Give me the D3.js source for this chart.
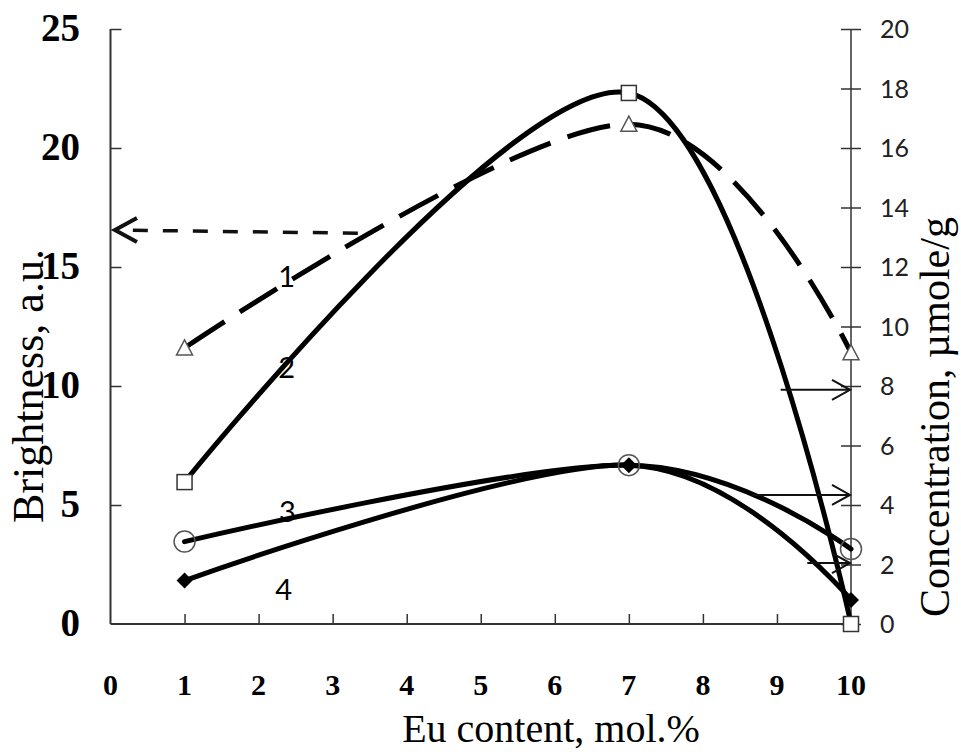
<!DOCTYPE html>
<html>
<head>
<meta charset="utf-8">
<script src="https://cdn.jsdelivr.net/npm/d3@7"></script>
<style>
  html, body { margin: 0; padding: 0; background: #fff; }
  svg { display: block; }
</style>
</head>
<body>
<svg id="chart" width="961" height="752"></svg>
<script>
// Eu content (mol.%) at which the samples were measured
const euContent = [1, 7, 10];

// Curve 1: brightness, a.u. (left axis)
const brightness1 = [11.6, 21.0, 11.4];
// Curves 2-4: concentration, µmole/g (right axis)
const conc2 = [4.77, 17.85, 0];
const conc3 = [2.77, 5.34, 2.52];
const conc4 = [1.46, 5.34, 0.81];

// Axis ticks
const xTicks = [0, 1, 2, 3, 4, 5, 6, 7, 8, 9, 10];
const leftTicks = [0, 5, 10, 15, 20, 25];
const rightTicks = [0, 2, 4, 6, 8, 10, 12, 14, 16, 18, 20];

// Curve number labels, placed in right-axis units
const curveLabels = ["1", "2", "3", "4"];
const curveLabelX = [2.38, 2.38, 2.39, 2.34];
const curveLabelY = [11.73, 8.66, 3.83, 1.21];

// Pointer arrows: curve 1 to the left axis, curves 2-4 to the right axis
const leftArrowFrom = { x: 3.34, y: 16.42 };
const leftArrowTo = { x: 0.06, y: 16.55 };
const rightArrowStart = [9.05, 8.66, 9.41];
const rightArrowLevel = [7.87, 4.34, 2.05];

const svg = d3.select("#chart");

const x = d3.scaleLinear().domain([0, 10]).range([110.5, 851]);
const yL = d3.scaleLinear().domain([0, 25]).range([624, 29]);
const yR = d3.scaleLinear().domain([0, 20]).range([624, 29]);

const serif = "'Liberation Serif', 'Times New Roman', serif";
const sans = "Lato, 'Open Sans', sans-serif";

// ---- axes ----
const axisColor = "#333";

// bottom axis
const gx = svg.append("g").attr("transform", `translate(0,${yL(0)})`)
  .call(d3.axisBottom(x).tickValues(xTicks.slice(1, 10)).tickSize(-10).tickFormat(""));
gx.select(".domain").attr("stroke", axisColor).attr("stroke-width", 2).attr("d", `M${x(0)},0H${x(10)}`);
gx.selectAll(".tick line").attr("stroke", axisColor).attr("stroke-width", 1.5);

svg.append("g").selectAll("text").data(xTicks).join("text")
  .attr("x", d => x(d)).attr("y", 695)
  .attr("text-anchor", "middle")
  .style("font-family", serif).style("font-weight", "bold").style("font-size", "30px")
  .text(d => d);

// left axis
const gl = svg.append("g").attr("transform", `translate(${x(0)},0)`)
  .call(d3.axisLeft(yL).tickValues(leftTicks.slice(1)).tickSize(-11).tickFormat(""));
gl.select(".domain").attr("stroke", axisColor).attr("stroke-width", 2).attr("d", `M0,${yL(25)}V${yL(0)}`);
gl.selectAll(".tick line").attr("stroke", axisColor).attr("stroke-width", 1.5);

svg.append("g").selectAll("text").data(leftTicks).join("text")
  .attr("x", 80).attr("y", d => yL(d) + 12)
  .attr("text-anchor", "end")
  .style("font-family", serif).style("font-weight", "bold").style("font-size", "39px")
  .text(d => d);

// right axis (ticks cross the line)
const gr = svg.append("g").attr("transform", `translate(${x(10)},0)`)
  .call(d3.axisRight(yR).tickValues(rightTicks).tickSize(10).tickFormat(""));
gr.select(".domain").attr("stroke", axisColor).attr("stroke-width", 1.5).attr("d", `M0,${yR(20)}V${yR(0)}`);
gr.selectAll(".tick line").attr("stroke", axisColor).attr("stroke-width", 1.5).attr("x1", -10);

svg.append("g").selectAll("text").data(rightTicks).join("text")
  .attr("x", 880).attr("y", d => yR(d) + 9)
  .attr("text-anchor", "start")
  .style("font-family", sans).style("font-size", "25px").attr("fill", "#222")
  .text(d => d);

// axis titles
svg.append("text")
  .attr("x", 551).attr("y", 742).attr("text-anchor", "middle")
  .style("font-family", serif).style("font-size", "40px")
  .text("Eu content, mol.%");

svg.append("text")
  .attr("transform", "translate(43,386) rotate(-90)").attr("text-anchor", "middle")
  .style("font-family", serif).style("font-size", "44px")
  .text("Brightness, a.u.");

svg.append("text")
  .attr("transform", "translate(949,417) rotate(-90)").attr("text-anchor", "middle")
  .style("font-family", serif).style("font-size", "42px")
  .text("Concentration, \u00b5mole/g");

// ---- curves ----
const smooth = d3.curveCardinal.tension(0);
const lineL = d3.line().curve(smooth).x(d => x(d[0])).y(d => yL(d[1]));
const lineR = d3.line().curve(smooth).x(d => x(d[0])).y(d => yR(d[1]));
const pairs = vals => euContent.map((e, i) => [e, vals[i]]);

const curves = svg.append("g").attr("fill", "none").attr("stroke", "#000").attr("stroke-width", 5);

curves.append("path").attr("d", lineL(pairs(brightness1)))
  .attr("stroke-dasharray", "44,18").attr("stroke-dashoffset", -4).attr("stroke-linecap", "butt");
curves.append("path").attr("d", lineR(pairs(conc2))).attr("stroke-linecap", "round");
curves.append("path").attr("d", lineR(pairs(conc3))).attr("stroke-linecap", "round");
curves.append("path").attr("d", lineR(pairs(conc4))).attr("stroke-linecap", "round");

// ---- markers ----
const mk = svg.append("g");
// triangles (curve 1)
mk.selectAll("path.tri").data(pairs(brightness1)).join("path").attr("class", "tri")
  .attr("d", d => { const cx = x(d[0]), cy = yL(d[1]); return `M${cx},${cy - 8}L${cx + 8},${cy + 7}L${cx - 8},${cy + 7}Z`; })
  .attr("fill", "#fff").attr("stroke", "#555").attr("stroke-width", 1.5);
// squares (curve 2)
mk.selectAll("rect.sq").data(pairs(conc2)).join("rect").attr("class", "sq")
  .attr("x", d => x(d[0]) - 7.5).attr("y", d => yR(d[1]) - 7.5)
  .attr("width", 15).attr("height", 15)
  .attr("fill", "#fff").attr("stroke", "#333").attr("stroke-width", 1.5);
// filled diamonds (curve 4)
mk.selectAll("path.dia").data(pairs(conc4)).join("path").attr("class", "dia")
  .attr("d", d => { const cx = x(d[0]), cy = yR(d[1]); return `M${cx},${cy - 8}L${cx + 8},${cy}L${cx},${cy + 8}L${cx - 8},${cy}Z`; })
  .attr("fill", "#000");
// open circles (curve 3)
mk.selectAll("circle.ci").data(pairs(conc3)).join("circle").attr("class", "ci")
  .attr("cx", d => x(d[0])).attr("cy", d => yR(d[1])).attr("r", 10.5)
  .attr("fill", "none").attr("stroke", "#555").attr("stroke-width", 1.5);

// ---- pointer arrows ----
const ar = svg.append("g").attr("fill", "none").attr("stroke", "#111");

// dashed arrow from curve 1 to the brightness axis
ar.append("line")
  .attr("x1", x(leftArrowFrom.x)).attr("y1", yL(leftArrowFrom.y))
  .attr("x2", x(leftArrowTo.x) + 4).attr("y2", yL(leftArrowTo.y))
  .attr("stroke-width", 3.5).attr("stroke-dasharray", "15,15");
{
  const tx = x(leftArrowTo.x), ty = yL(leftArrowTo.y);
  ar.append("path").attr("d", `M${tx + 22},${ty - 12}L${tx},${ty}L${tx + 22},${ty + 12}`)
    .attr("stroke-width", 4).attr("stroke-linejoin", "miter");
}

// solid arrows from curves 2-4 to the concentration axis
rightArrowStart.forEach((s, i) => {
  const ty = yR(rightArrowLevel[i]);
  const tx = x(10) - 1;
  ar.append("line").attr("x1", x(s)).attr("y1", ty).attr("x2", tx).attr("y2", ty).attr("stroke-width", 2);
  ar.append("path").attr("d", `M${tx - 18},${ty - 10}L${tx},${ty}L${tx - 18},${ty + 10}`).attr("stroke-width", 2);
});

// ---- curve numbers ----
svg.append("g").selectAll("text").data(curveLabels).join("text")
  .attr("x", (d, i) => x(curveLabelX[i])).attr("y", (d, i) => yR(curveLabelY[i]))
  .attr("text-anchor", "middle").attr("dominant-baseline", "central")
  .style("font-family", sans).style("font-size", "29px")
  .text(d => d);
</script>
</body>
</html>
